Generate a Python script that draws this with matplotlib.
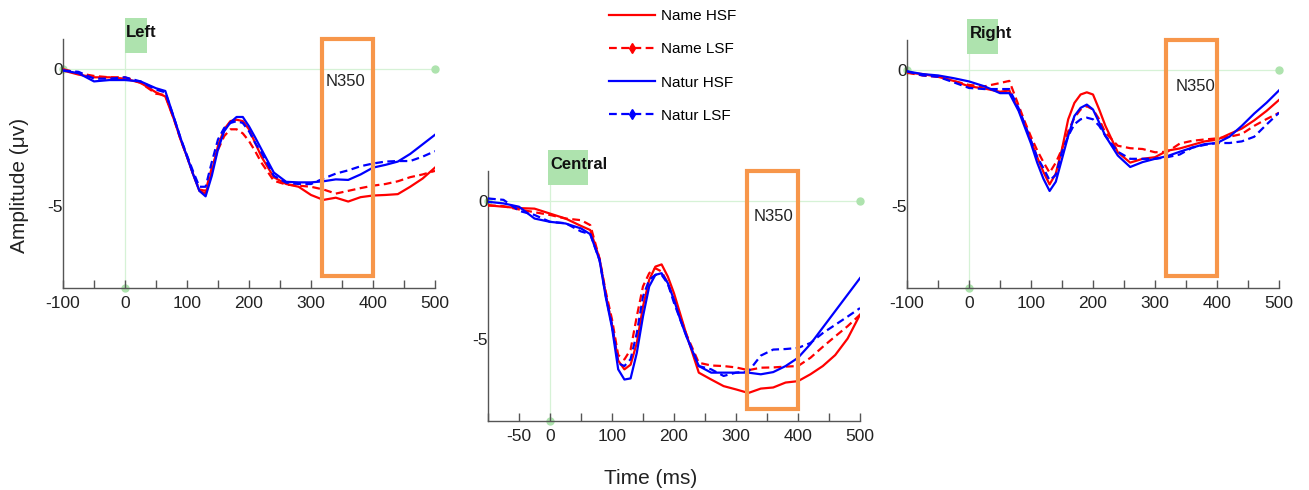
import numpy as np
import matplotlib
matplotlib.use("Agg")
import matplotlib.pyplot as plt
from matplotlib.patches import Rectangle
from matplotlib.lines import Line2D

plt.rcParams['font.family'] = ['Liberation Sans', 'DejaVu Sans']

# time points (ms)
times = [-100, -75, -50, -25, 0, 25, 50, 65, 80, 90, 100, 110, 120, 130, 140, 150,
         160, 170, 180, 190, 200, 210, 220, 240, 260, 280, 300, 320, 340, 360, 380,
         400, 420, 440, 460, 480, 500]

# Left
left_name_hsf = [-0.05, -0.2, -0.3, -0.3, -0.35, -0.5, -0.85, -1.0, -1.9, -2.6, -3.2, -3.85,
                 -4.45, -4.55, -3.75, -2.8, -2.2, -1.9, -1.85, -1.9, -2.2, -2.7, -3.2,
                 -3.95, -4.2, -4.3, -4.6, -4.78, -4.7, -4.84, -4.68, -4.62, -4.6, -4.57,
                 -4.3, -4.0, -3.6]
left_name_lsf = [0.0, -0.15, -0.25, -0.3, -0.3, -0.5, -0.9, -0.95, -1.9, -2.6, -3.2, -3.85,
                 -4.4, -4.45, -3.6, -2.95, -2.45, -2.2, -2.2, -2.35, -2.63, -3.0, -3.42,
                 -4.08, -4.22, -4.26, -4.3, -4.4, -4.55, -4.45, -4.35, -4.26, -4.2, -4.1,
                 -3.95, -3.85, -3.72]
left_natur_hsf = [-0.05, -0.15, -0.45, -0.4, -0.4, -0.45, -0.7, -0.8, -1.85, -2.55, -3.2, -3.85,
                  -4.45, -4.65, -3.9, -2.93, -2.27, -1.95, -1.75, -1.75, -2.09, -2.5, -2.93,
                  -3.78, -4.12, -4.14, -4.14, -4.1, -4.03, -4.05, -3.85, -3.6, -3.5, -3.38,
                  -3.1, -2.75, -2.4]
left_natur_lsf = [-0.05, -0.1, -0.35, -0.35, -0.3, -0.45, -0.75, -0.85, -1.85, -2.55, -3.15, -3.75,
                  -4.3, -4.3, -3.4, -2.57, -2.15, -1.97, -1.9, -1.97, -2.27, -2.7, -3.05,
                  -3.9, -4.15, -4.2, -4.2, -4.0, -3.82, -3.7, -3.55, -3.45, -3.38, -3.36,
                  -3.36, -3.2, -3.0]

# Central
cen_name_hsf = [-0.15, -0.2, -0.25, -0.27, -0.45, -0.63, -0.9, -1.05, -2.1, -3.4, -4.5, -5.8,
                -6.12, -5.95, -5.16, -3.83, -2.86, -2.38, -2.3, -2.74, -3.35, -4.1, -4.85,
                -6.24, -6.49, -6.73, -6.85, -6.98, -6.82, -6.78, -6.6, -6.55, -6.3, -6.0,
                -5.6, -5.0, -4.13]
cen_name_lsf = [-0.15, -0.18, -0.3, -0.4, -0.5, -0.63, -0.69, -0.87, -2.1, -3.3, -4.3, -5.6,
                -5.76, -5.4, -4.19, -3.1, -2.62, -2.44, -2.56, -2.98, -3.6, -4.2, -4.85,
                -5.88, -5.98, -6.0, -6.05, -6.15, -6.06, -6.05, -6.02, -6.0, -5.7, -5.3,
                -4.92, -4.55, -4.13]
cen_natur_hsf = [-0.02, -0.08, -0.2, -0.63, -0.75, -0.81, -0.99, -1.2, -2.15, -3.5, -4.6, -6.12,
                 -6.49, -6.45, -5.52, -4.19, -3.1, -2.68, -2.62, -2.98, -3.59, -4.3, -4.92,
                 -6.0, -6.24, -6.24, -6.24, -6.24, -6.3, -6.22, -6.0, -5.7, -5.2, -4.6,
                 -4.0, -3.4, -2.8]
cen_natur_lsf = [0.1, 0.05, -0.35, -0.5, -0.75, -0.8, -1.1, -1.2, -2.15, -3.45, -4.5, -5.9,
                 -6.0, -5.75, -4.8, -3.47, -2.86, -2.68, -2.68, -3.0, -3.7, -4.3, -4.9,
                 -6.0, -6.12, -6.36, -6.24, -6.2, -5.62, -5.4, -5.38, -5.34, -5.16, -4.8,
                 -4.5, -4.2, -3.89]

# Right
right_name_hsf = [-0.1, -0.15, -0.25, -0.4, -0.6, -0.68, -0.8, -0.75, -1.45, -2.0, -2.6, -3.2,
                  -3.74, -4.2, -3.8, -2.9, -1.81, -1.21, -0.9, -0.82, -0.9, -1.45, -2.05,
                  -3.02, -3.4, -3.26, -3.2, -2.96, -2.88, -2.75, -2.62, -2.56, -2.35, -2.15,
                  -1.85, -1.5, -1.1]
right_name_lsf = [-0.1, -0.2, -0.25, -0.4, -0.55, -0.6, -0.48, -0.4, -1.3, -1.9, -2.45, -2.95,
                  -3.38, -3.77, -3.4, -2.9, -2.25, -1.75, -1.45, -1.33, -1.45, -1.81, -2.3,
                  -2.78, -2.87, -2.9, -3.02, -3.0, -2.7, -2.6, -2.55, -2.51, -2.45, -2.35,
                  -2.05, -1.8, -1.57]
right_natur_hsf = [-0.05, -0.15, -0.2, -0.3, -0.42, -0.6, -0.85, -0.85, -1.5, -2.1, -2.7, -3.4,
                   -3.99, -4.44, -4.1, -3.26, -2.42, -1.69, -1.39, -1.27, -1.45, -1.93, -2.42,
                   -3.14, -3.56, -3.38, -3.26, -3.16, -3.0, -2.85, -2.72, -2.68, -2.45, -2.05,
                   -1.6, -1.2, -0.75]
right_natur_lsf = [-0.05, -0.2, -0.25, -0.45, -0.66, -0.7, -0.7, -0.7, -1.4, -2.0, -2.6, -3.2,
                   -3.6, -4.05, -3.85, -3.0, -2.42, -1.99, -1.81, -1.75, -1.81, -2.05, -2.42,
                   -3.0, -3.26, -3.26, -3.26, -3.2, -3.1, -2.85, -2.75, -2.68, -2.68, -2.62,
                   -2.45, -2.0, -1.57]

labels = ['Name HSF', 'Name LSF', 'Natur HSF', 'Natur LSF']
panels = ['Left', 'Central', 'Right']
window = (317, 400)   # N350 window

series = {
    'Left': [left_name_hsf, left_name_lsf, left_natur_hsf, left_natur_lsf],
    'Central': [cen_name_hsf, cen_name_lsf, cen_natur_hsf, cen_natur_lsf],
    'Right': [right_name_hsf, right_name_lsf, right_natur_hsf, right_natur_lsf],
}

colors = ['#ff0000', '#ff0000', '#0000ff', '#0000ff']
styles = ['-', (0, (3.5, 2)), '-', (0, (3.5, 2))]
green = '#aee3ae'
orange = '#f7964a'

W, H = 1309, 490
fig = plt.figure(figsize=(W / 100, H / 100), dpi=100)

# axes boxes in pixels: left, top, right, bottom
boxes = {
    'Left': (63, 39, 435, 288),
    'Central': (488, 171, 860, 421),
    'Right': (907, 40, 1279, 288),
}
label_box = {'Left': (0, 35), 'Central': (-4, 61), 'Right': (-3, 47)}
n350_pos = {'Left': (324, -0.47), 'Central': (328, -0.54), 'Right': (334, -0.6)}

for p in panels:
    l, t, r, b = boxes[p]
    ax = fig.add_axes([l / W, 1 - b / H, (r - l) / W, (b - t) / H])
    ax.set_xlim(-100, 500)
    ax.set_ylim(-8, 1.1)

    # zero lines
    ax.plot([-100, 500], [0, 0], color='#d6f2d6', lw=0.9, zorder=1)
    ax.plot([0, 0], [-8, 1.1], color='#d6f2d6', lw=0.9, zorder=1)
    ax.plot([500], [0], marker='o', ms=5, color=green, clip_on=False, zorder=1)
    ax.plot([-100], [0], marker='o', ms=5, color=green, clip_on=False, zorder=1)
    ax.plot([0], [-8], marker='o', ms=5, color=green, clip_on=False, zorder=1)

    for y, c, ls in zip(series[p], colors, styles):
        ax.plot(times, y, color=c, linestyle=ls, lw=1.6, zorder=3)

    # N350 box
    ax.add_patch(Rectangle((window[0], -7.55), window[1] - window[0], 8.65,
                           fill=False, edgecolor=orange, lw=3, clip_on=False, zorder=4))
    ax.text(n350_pos[p][0], n350_pos[p][1], 'N350', fontsize=12, ha='left',
            va='center', color='#222222', zorder=5)

    # region label
    x0, x1 = label_box[p]
    ax.add_patch(Rectangle((x0, 0.6), x1 - x0, 1.28, color=green, clip_on=False,
                           lw=0, zorder=2))
    ax.text(1, 1.34, p, fontsize=12, fontweight='bold', ha='left', va='center',
            color='#111111', clip_on=False, zorder=5)

    for s in ['top', 'right']:
        ax.spines[s].set_visible(False)
    for s in ['left', 'bottom']:
        ax.spines[s].set_color('#555555')
        ax.spines[s].set_linewidth(1)

    xt = list(range(-100, 501, 50))
    if p == 'Central':
        xl = ['' if (v % 100 and v != -50) or v == -100 else str(v) for v in xt]
    else:
        xl = ['' if v % 100 else str(v) for v in xt]
    ax.set_xticks(xt)
    ax.set_xticklabels(xl)
    ax.tick_params(axis='x', direction='in', length=6, width=1, color='#555555',
                   labelsize=12.5, pad=6, labelcolor='#222222')
    ax.set_yticks([0, -5])
    ax.set_yticklabels(['0', '-5'])
    ax.tick_params(axis='y', length=0, pad=0, labelsize=12.5, labelcolor='#222222')

handles = [Line2D([], [], color=c, linestyle=ls, lw=1.6,
                  marker=('d' if i % 2 else None), ms=5)
           for i, (c, ls) in enumerate(zip(colors, styles))]
fig.legend(handles, labels, loc='center left', bbox_to_anchor=(609 / W, 1 - 66 / H),
           frameon=False, fontsize=11, handlelength=3.0, handletextpad=0.4,
           labelspacing=1.25, borderpad=0, borderaxespad=0, numpoints=1)

fig.text(20 / W, 1 - 185 / H, 'Amplitude (μv)', rotation=90, fontsize=15,
         ha='center', va='center', color='#222222')
fig.text(651 / W, 1 - 478 / H, 'Time (ms)', fontsize=15, ha='center', va='center',
         color='#222222')

fig.savefig('out.png', dpi=100)
